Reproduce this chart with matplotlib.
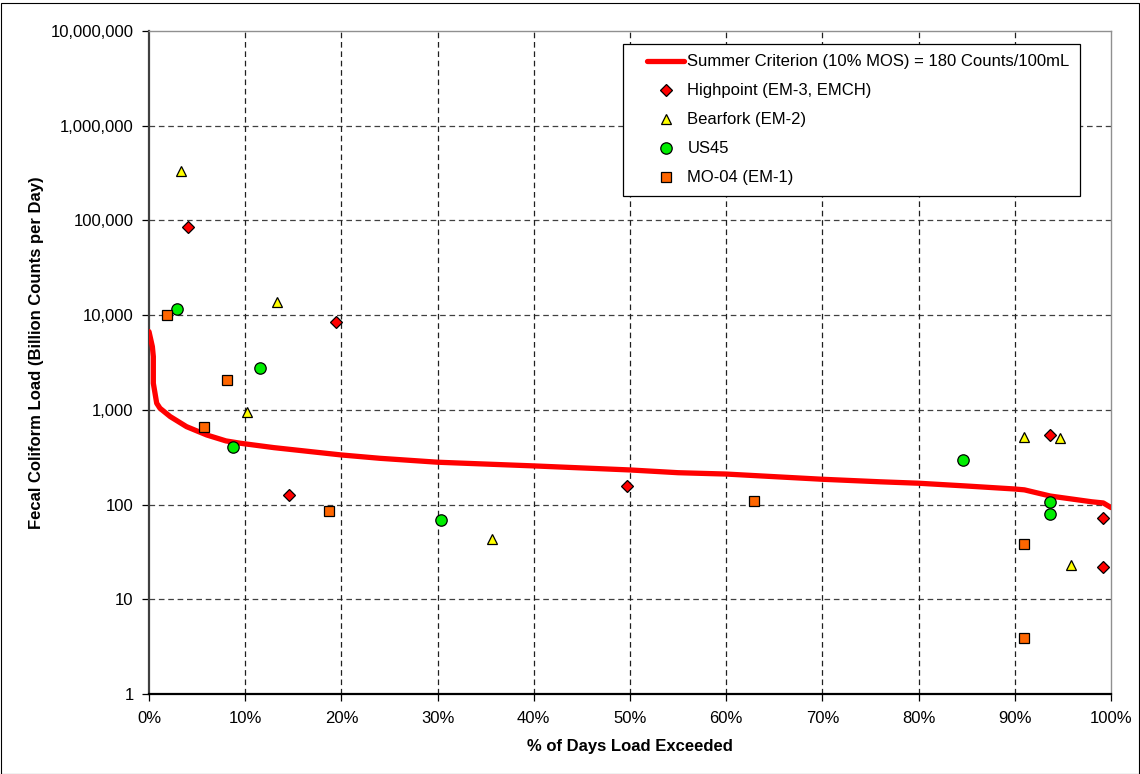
import matplotlib
matplotlib.use("Agg")
import matplotlib.pyplot as plt
from matplotlib.ticker import FuncFormatter, FixedLocator, NullLocator
from matplotlib.patches import Rectangle
from matplotlib.lines import Line2D
from matplotlib.legend_handler import HandlerLine2D

plt.rcParams['font.family'] = ['Liberation Sans', 'DejaVu Sans']

# Load duration curve for the summer criterion (percent of days exceeded, load)
curve_pct = [0.0, 0.35, 0.45, 0.45, 0.8, 1.14, 2.2, 3.9, 6.0, 8.0, 9.5, 13.0,
             20.0, 24.0, 30.0, 40.0, 50.0, 55.0, 60.0, 70.0, 76.0, 80.0, 85.0,
             90.0, 91.0, 93.7, 98.0, 99.2, 100.0]
curve_load = [6700, 4650, 3650, 1910, 1175, 1040, 850, 665, 543, 470, 444, 399,
              334, 308, 280, 256, 232, 217, 210, 185, 174, 168, 157,
              146, 143, 123, 107, 104, 93]

# Observed loads by station
highpoint_pct = [4.1, 19.4, 14.6, 49.7, 93.7, 99.2, 99.2]
highpoint_load = [85000, 8400, 126, 157, 543, 72, 22]

bearfork_pct = [3.3, 13.3, 10.2, 35.7, 91.0, 94.7, 95.8]
bearfork_load = [330000, 13900, 940, 43, 514, 509, 23]

us45_pct = [2.9, 11.5, 8.7, 30.4, 84.6, 93.7, 93.7]
us45_load = [11500, 2750, 409, 69, 296, 106, 80]

mo04_pct = [1.9, 8.1, 5.7, 18.7, 62.9, 91.0, 91.0]
mo04_load = [10100, 2070, 655, 86, 108, 38.4, 3.9]

x_ticks = [0, 10, 20, 30, 40, 50, 60, 70, 80, 90, 100]
y_ticks = [1, 10, 100, 1000, 10000, 100000, 1000000, 10000000]

W, H = 1140, 774
FS = 12.0
fig = plt.figure(figsize=(W / 100, H / 100), dpi=100)
fig.patch.set_facecolor('white')
fig.add_artist(Rectangle((0.5 / W, 0.5 / H), (W - 2) / W, (H - 3) / H,
                         transform=fig.transFigure, fill=False,
                         edgecolor='black', linewidth=0.8))

left, right, top, bottom = 149, 1111, 31, 694
ax = fig.add_axes([left / W, 1 - bottom / H, (right - left) / W, (bottom - top) / H])

ax.set_yscale('log')
ax.set_xlim(0, 100)
ax.set_ylim(1, 1e7)

dash = (0, (4.5, 3.0))
ax.yaxis.set_major_locator(FixedLocator(y_ticks))
ax.yaxis.set_minor_locator(NullLocator())
ax.xaxis.set_major_locator(FixedLocator(x_ticks))
ax.yaxis.set_major_formatter(FuncFormatter(lambda v, p: f"{int(round(v)):,}"))
ax.xaxis.set_major_formatter(FuncFormatter(lambda v, p: f"{int(round(v))}%"))

for yv in y_ticks[1:-1]:
    ax.axhline(yv, color='#404040', linewidth=0.9, linestyle=dash, zorder=1)
for xv in x_ticks[1:-1]:
    ax.axvline(xv, color='#202020', linewidth=0.9, linestyle=dash, zorder=1)

ax.plot(curve_pct, curve_load, color='#FF0000', linewidth=3.8, zorder=3,
        solid_joinstyle='round', solid_capstyle='round',
        label='Summer Criterion (10% MOS) = 180 Counts/100mL')

mk = dict(linestyle='none', markeredgecolor='black', markeredgewidth=0.9, zorder=4)
ax.plot(highpoint_pct, highpoint_load, marker='D', markersize=6.3,
        markerfacecolor='#FF0000', label='Highpoint (EM-3, EMCH)', **mk)
ax.plot(bearfork_pct, bearfork_load, marker='^', markersize=7.8,
        markerfacecolor='#FFFF00', label='Bearfork (EM-2)', **mk)
ax.plot(us45_pct, us45_load, marker='o', markersize=8.2,
        markerfacecolor='#00EE00', label='US45', **mk)
ax.plot(mo04_pct, mo04_load, marker='s', markersize=7.6,
        markerfacecolor='#FF6600', label='MO-04 (EM-1)', **mk)

for s in ('top', 'right'):
    ax.spines[s].set_color('#909090')
    ax.spines[s].set_linewidth(1.0)
ax.spines['left'].set_color('#404040')
ax.spines['left'].set_linewidth(1.6)
ax.spines['bottom'].set_color('black')
ax.spines['bottom'].set_linewidth(1.6)

ax.tick_params(axis='both', which='major', direction='out', length=5,
               width=0.9, color='black', labelsize=FS, labelcolor='black')
ax.tick_params(axis='x', pad=7)
ax.tick_params(axis='y', pad=6)

fig.text(630 / W, 1 - 747 / H, '% of Days Load Exceeded', ha='center', va='center',
         fontsize=FS, fontweight='bold')
fig.text(37 / W, 1 - 353 / H, 'Fecal Coliform Load (Billion Counts per Day)',
         ha='center', va='center', rotation=90, fontsize=FS, fontweight='bold')

fs_px = FS * 100 / 72
leg = ax.legend(loc='upper left', bbox_to_anchor=(623 / W, 1 - 44 / H),
                bbox_transform=fig.transFigure, fontsize=FS, frameon=True,
                fancybox=False, edgecolor='black', framealpha=1,
                handlelength=51 / fs_px, handletextpad=3 / fs_px, borderpad=0.62,
                labelspacing=0.84, borderaxespad=0,
                handler_map={Line2D: HandlerLine2D(xpad=14 / fs_px)})
leg.get_frame().set_linewidth(0.9)

fig.savefig('out.png', dpi=100, facecolor='white')
